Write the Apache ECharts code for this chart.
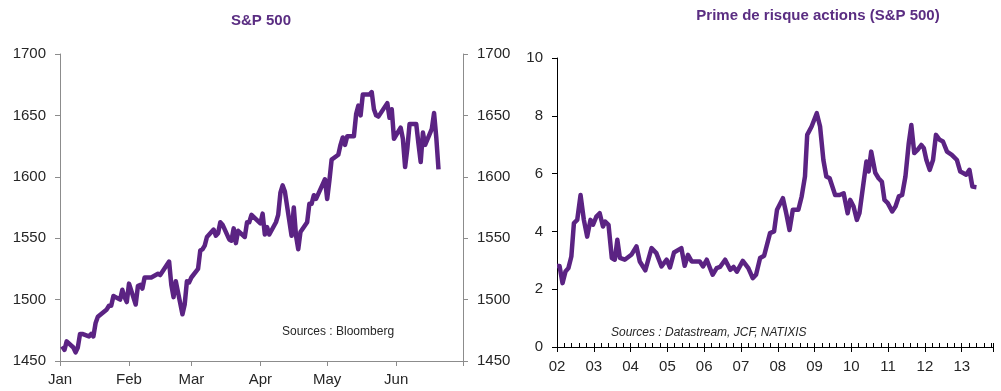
<!DOCTYPE html>
<html>
<head>
<meta charset="utf-8">
<script src="https://cdn.jsdelivr.net/npm/echarts@6/dist/echarts.min.js"></script>
<style>
html,body{margin:0;padding:0;background:#fff;}
#c{width:1001px;height:391px;}
</style>
</head>
<body>
<div id="c"></div>
<script>
// ---- Left chart: S&P 500 daily closes, 2013 ----
const spDates = ['2013-01-02','2013-01-03','2013-01-04','2013-01-07','2013-01-08','2013-01-09','2013-01-10','2013-01-11','2013-01-14','2013-01-15','2013-01-16','2013-01-17','2013-01-18','2013-01-22','2013-01-23','2013-01-24','2013-01-25','2013-01-28','2013-01-29','2013-01-30','2013-01-31',
'2013-02-01','2013-02-04','2013-02-05','2013-02-06','2013-02-07','2013-02-08','2013-02-11','2013-02-12','2013-02-13','2013-02-14','2013-02-15','2013-02-19','2013-02-20','2013-02-21','2013-02-22','2013-02-25','2013-02-26','2013-02-27','2013-02-28',
'2013-03-01','2013-03-04','2013-03-05','2013-03-06','2013-03-07','2013-03-08','2013-03-11','2013-03-12','2013-03-13','2013-03-14','2013-03-15','2013-03-18','2013-03-19','2013-03-20','2013-03-21','2013-03-22','2013-03-25','2013-03-26','2013-03-27','2013-03-28',
'2013-04-01','2013-04-02','2013-04-03','2013-04-04','2013-04-05','2013-04-08','2013-04-09','2013-04-10','2013-04-11','2013-04-12','2013-04-15','2013-04-16','2013-04-17','2013-04-18','2013-04-19','2013-04-22','2013-04-23','2013-04-24','2013-04-25','2013-04-26','2013-04-29','2013-04-30',
'2013-05-01','2013-05-02','2013-05-03','2013-05-06','2013-05-07','2013-05-08','2013-05-09','2013-05-10','2013-05-13','2013-05-14','2013-05-15','2013-05-16','2013-05-17','2013-05-20','2013-05-21','2013-05-22','2013-05-23','2013-05-24','2013-05-28','2013-05-29','2013-05-30','2013-05-31',
'2013-06-03','2013-06-04','2013-06-05','2013-06-06','2013-06-07','2013-06-10','2013-06-11','2013-06-12','2013-06-13','2013-06-14','2013-06-17','2013-06-18','2013-06-19','2013-06-20'];
const spValues = [1462,1459,1466,1461,1457,1461,1472,1472,1470,1472,1470,1481,1486,1492,1495,1495,1503,1500,1508,1502,1498,
1513,1496,1511,1512,1509,1518,1518,1519,1520,1521,1520,1531,1512,1502,1515,1488,1496,1515,1514,
1518,1525,1540,1541,1544,1551,1557,1552,1554,1563,1561,1549,1548,1558,1546,1556,1551,1563,1563,1569,
1562,1570,1553,1559,1553,1563,1569,1587,1593,1588,1552,1575,1552,1541,1555,1563,1578,1578,1585,1582,1594,1598,
1582,1597,1614,1618,1626,1632,1626,1633,1633,1651,1658,1650,1667,1667,1669,1655,1650,1649,1660,1648,1655,1631,
1640,1631,1608,1623,1643,1643,1627,1612,1636,1626,1639,1652,1632,1606];
const monthLabels = ['Jan','Feb','Mar','Apr','May','Jun'];

// ---- Right chart: equity risk premium (S&P 500), decimal years ----
const riskDates = [2002.00,2002.07,2002.15,2002.23,2002.31,2002.39,2002.46,2002.55,2002.64,2002.73,2002.82,2002.91,2002.98,
2003.07,2003.16,2003.25,2003.31,2003.40,2003.49,2003.57,2003.64,2003.71,2003.84,
2004.02,2004.16,2004.25,2004.40,2004.57,2004.70,2004.84,2004.98,
2005.07,2005.18,2005.38,2005.47,2005.56,2005.66,2005.88,2005.97,
2006.07,2006.23,2006.34,2006.43,2006.57,2006.71,2006.80,2006.89,
2007.05,2007.20,2007.32,2007.41,2007.52,2007.63,2007.79,2007.90,2007.98,
2008.14,2008.23,2008.32,2008.41,2008.56,2008.65,2008.74,2008.80,2008.92,
2009.06,2009.15,2009.24,2009.32,2009.41,2009.56,2009.68,2009.79,2009.90,2009.97,
2010.06,2010.15,2010.22,2010.33,2010.41,2010.47,2010.54,2010.65,2010.74,2010.83,2010.90,2010.99,
2011.11,2011.20,2011.29,2011.38,2011.47,2011.56,2011.63,2011.71,2011.80,2011.90,2011.97,
2012.04,2012.13,2012.22,2012.30,2012.40,2012.49,2012.60,2012.73,2012.87,2012.96,
2013.05,2013.12,2013.21,2013.29,2013.40];
const riskValues = [2.80,2.80,2.21,2.61,2.73,3.13,4.29,4.40,5.26,4.40,3.82,4.40,4.23,
4.51,4.63,4.17,4.34,4.23,3.08,3.02,3.71,3.08,3.02,
3.19,3.48,2.96,2.65,3.42,3.25,2.79,3.02,
2.75,3.27,3.42,2.81,3.19,2.96,2.96,2.79,
3.02,2.50,2.73,2.77,3.02,2.67,2.77,2.61,
2.98,2.73,2.38,2.50,3.08,3.16,3.94,4.00,4.75,
5.15,4.63,4.05,4.75,4.75,5.21,5.90,7.34,7.63,
8.09,7.63,6.47,5.90,5.84,5.26,5.26,5.32,4.63,5.09,
4.86,4.40,4.63,5.67,6.42,6.07,6.76,6.03,5.84,5.72,5.09,4.98,
4.69,4.86,5.21,5.26,5.90,7.05,7.68,6.71,6.82,6.99,6.88,
6.47,6.13,6.47,7.34,7.17,7.11,6.76,6.65,6.47,6.07,
6.01,5.96,6.13,5.55,5.53];
const yearLabels = ['02','03','04','05','06','07','08','09','10','11','12','13'];

const FONT = 'Liberation Sans, Arial, sans-serif';
const PURPLE = '#5B2383';
const TXT = '#262626';

const spData = spDates.map((d, i) => [d, spValues[i]]);
const riskData = riskDates.map((d, i) => [d, riskValues[i]]);

const chart = echarts.init(document.getElementById('c'), null, {renderer: 'canvas'});
const grayAxis = {lineStyle: {color: '#8c8c8c', width: 1}};
const leftY = {
  type: 'value', gridIndex: 0, min: 1450, max: 1700, interval: 50,
  axisLine: Object.assign({show: true}, grayAxis),
  axisTick: {show: true, length: 5, lineStyle: {color: '#8c8c8c'}},
  splitLine: {show: false},
  axisLabel: {fontFamily: FONT, fontSize: 15, color: TXT, margin: 14,
              formatter: function (v) { return String(v); }}
};
chart.setOption({
  animation: false,
  title: [
    {text: 'S&P 500', left: 256, top: 8, textAlign: 'center',
     textStyle: {fontFamily: FONT, fontSize: 15, fontWeight: 'bold', color: '#5A2D82'}},
    {text: 'Prime de risque actions (S&P 500)', left: 813, top: 3, textAlign: 'center',
     textStyle: {fontFamily: FONT, fontSize: 15, fontWeight: 'bold', color: '#5A2D82'}}
  ],
  grid: [
    {left: 60, right: 538, top: 54, bottom: 30},
    {left: 557, right: 8, top: 58, bottom: 44}
  ],
  xAxis: [
    {
      type: 'time', gridIndex: 0, position: 'bottom', min: '2013-01-01', max: '2013-07-01',
      minInterval: 28 * 86400000, maxInterval: 31 * 86400000,
      axisLine: Object.assign({show: true}, grayAxis),
      axisTick: {show: true, length: 5, lineStyle: {color: '#8c8c8c'}},
      splitLine: {show: false},
      axisLabel: {
        fontFamily: FONT, fontSize: 15, color: TXT, margin: 11,
        showMinLabel: true, showMaxLabel: true,
        formatter: function (v) {
          const m = new Date(v).getMonth();
          return m < monthLabels.length ? monthLabels[m] : '';
        }
      }
    },
    {
      type: 'value', gridIndex: 1, position: 'bottom', min: 2002, max: 2013.85, interval: 1,
      axisLine: {show: true, lineStyle: {color: '#000', width: 1}},
      axisTick: {show: true, inside: true, length: 4, lineStyle: {color: '#000'}},
      minorTick: {show: true, splitNumber: 5, length: 4, lineStyle: {color: '#000'}},
      splitLine: {show: false},
      axisLabel: {
        fontFamily: FONT, fontSize: 15, color: TXT, margin: 12,
        formatter: function (v) {
          const k = Math.round(v - 2002);
          return Math.abs(v - 2002 - k) < 1e-6 && k < yearLabels.length ? yearLabels[k] : '';
        }
      }
    },
    {
      type: 'value', gridIndex: 1, position: 'bottom', offset: 0, min: 2002, max: 2013.85, interval: 1,
      axisLine: {show: false},
      axisTick: {show: true, inside: false, length: 5, lineStyle: {color: '#000'}},
      splitLine: {show: false},
      axisLabel: {show: false}
    }
  ],
  yAxis: [
    Object.assign({}, leftY, {position: 'left'}),
    Object.assign({}, leftY, {position: 'right'}),
    {
      type: 'value', gridIndex: 1, min: 0, max: 10, interval: 2,
      axisLine: {show: true, lineStyle: {color: '#000', width: 1}},
      axisTick: {show: true, length: 5, lineStyle: {color: '#000'}},
      splitLine: {show: false},
      axisLabel: {fontFamily: FONT, fontSize: 15, color: TXT, margin: 14}
    }
  ],
  graphic: [
    {type: 'text', left: 282, top: 326,
     style: {text: 'Sources : Bloomberg', font: '12px ' + FONT, fill: TXT}},
    {type: 'text', left: 611, top: 327,
     style: {text: 'Sources : Datastream, JCF, NATIXIS', font: 'italic 12px ' + FONT, fill: TXT}}
  ],
  series: [
    {type: 'line', xAxisIndex: 0, yAxisIndex: 0, data: spData, showSymbol: false,
     lineStyle: {color: PURPLE, width: 4.5, join: 'round'}, smooth: false},
    {type: 'line', xAxisIndex: 1, yAxisIndex: 2, data: riskData, showSymbol: false,
     lineStyle: {color: PURPLE, width: 4.5, join: 'round'}, smooth: false}
  ]
});
</script>
</body>
</html>
